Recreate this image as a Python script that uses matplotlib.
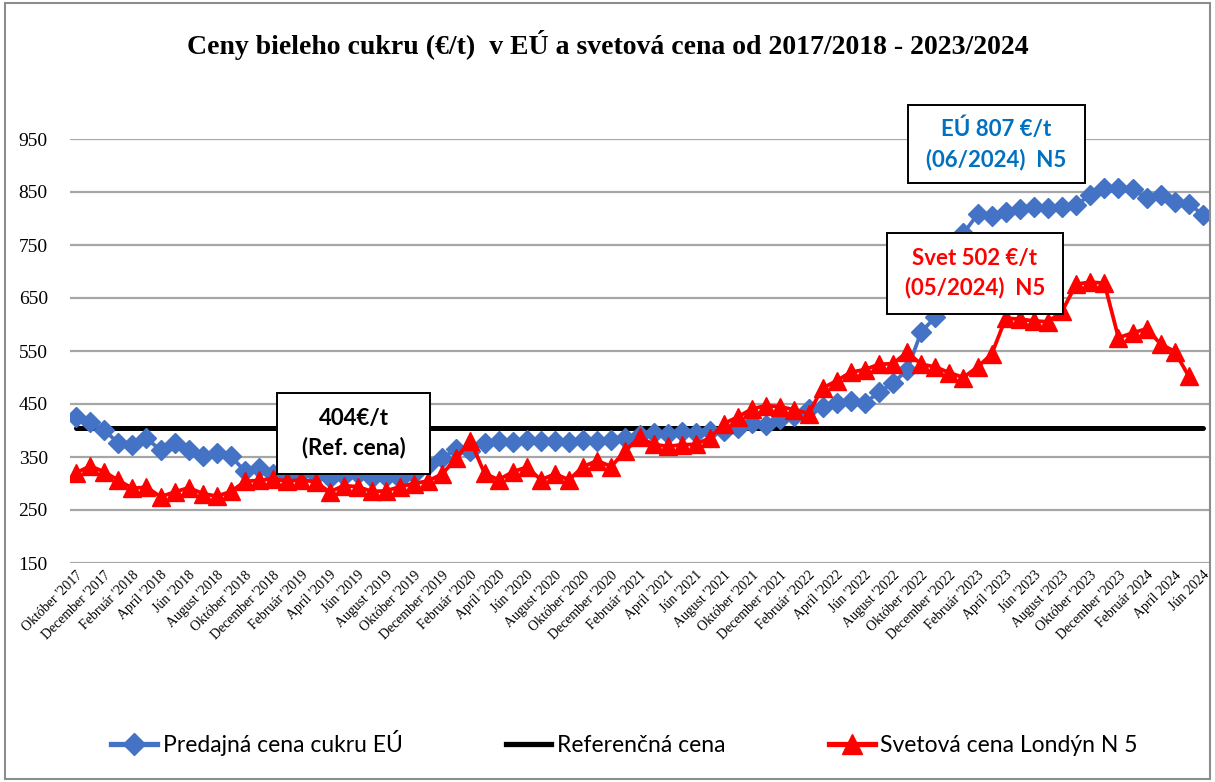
import matplotlib
matplotlib.use("Agg")
import matplotlib.pyplot as plt
from matplotlib.patches import Rectangle
from matplotlib.lines import Line2D

# Monthly data Oktober 2017 - Jun 2024
eu_price = [426, 416, 401, 376, 373, 385, 363, 377, 363, 351, 357, 351,
            323, 330, 318, 315, 320, 316, 310, 314, 318, 310, 313, 308,
            318, 335, 348, 365, 362, 376, 380, 378, 382, 380, 381, 379,
            383, 380, 382, 386, 392, 395, 393, 398, 396, 399, 400, 405,
            415, 410, 422, 428, 440, 445, 452, 456, 452, 472, 490, 514,
            586, 614, 690, 772, 808, 805, 812, 818, 822, 820, 822, 825,
            845, 857, 858, 856, 838, 845, 832, 828, 807]
world_price = [320, 333, 322, 306, 291, 293, 275, 284, 292, 281, 276, 285,
               304, 306, 309, 304, 307, 303, 284, 296, 294, 285, 286, 294,
               300, 305, 318, 348, 381, 319, 307, 322, 331, 307, 318, 307,
               332, 343, 332, 362, 387, 374, 370, 373, 374, 386, 413, 426,
               441, 447, 445, 439, 432, 480, 494, 510, 515, 525, 526, 548,
               525, 520, 509, 500, 520, 544, 612, 610, 607, 605, 625, 676,
               680, 678, 575, 584, 592, 563, 549, 502]
ref_price = 404

month_names = ["Október", "December", "Február", "Apríl", "Jún", "August"]
tick_labels = []
for k in range(41):
    year = 2017 + (9 + 2 * k) // 12
    name = month_names[k % 6]
    if year == 2024:
        tick_labels.append(f"{name} {year}")
    else:
        tick_labels.append(f"{name} '{year}")

y_ticks = [150, 250, 350, 450, 550, 650, 750, 850, 950]

fig = plt.figure(figsize=(12.15, 7.82), dpi=100)
ax = fig.add_axes([70 / 1215, 1 - 563 / 782, 1140 / 1215, 424 / 782])

x_eu = list(range(len(eu_price)))
x_world = list(range(len(world_price)))

ax.plot(x_eu, [ref_price] * len(x_eu), color="black", lw=3.6, zorder=2,
        solid_capstyle="round")
ax.plot(x_eu, eu_price, color="#4472C4", lw=2.7, marker="D", ms=10,
        zorder=3)
ax.plot(x_world, world_price, color="#FF0000", lw=2.7, marker="^", ms=13.5,
        zorder=4)

ax.set_xlim(-0.43, 80.5)
ax.set_ylim(150, 950)
ax.set_yticks(y_ticks)
ax.set_yticklabels([str(v) for v in y_ticks], family="Liberation Serif",
                   fontsize=14)
ax.set_xticks(range(0, 81, 2))
ax.set_xticklabels(tick_labels, rotation=45, ha="right", va="top",
                   rotation_mode="anchor", family="Liberation Serif",
                   fontsize=10)
ax.tick_params(axis="y", length=0, pad=16)
ax.tick_params(axis="x", length=0, pad=4)
ax.grid(axis="y", color="#a6a6a6", lw=1.6)
ax.set_axisbelow(True)
for s in ax.spines.values():
    s.set_visible(False)

# Text boxes (index units on x, price units on y)
def text_box(x0, x1, y0, y1, txt, color):
    ax.add_patch(Rectangle((x0, y0), x1 - x0, y1 - y0, fc="white", ec="black",
                           lw=1.4, zorder=5, clip_on=False))
    ax.text((x0 + x1) / 2, (y0 + y1) / 2, txt, ha="center", va="center",
            fontsize=16, fontweight="bold", family="Lato", color=color,
            linespacing=1.45, zorder=6, clip_on=False)

text_box(14.27, 25.12, 318, 471, "404€/t\n(Ref. cena)", "black")
text_box(59.05, 71.61, 867, 1014, "EÚ 807 €/t\n(06/2024)  N5", "#0070C0")
text_box(57.56, 70.05, 620, 773, "Svet 502 €/t\n(05/2024)  N5", "#FF0000")

fig.text(0.5, 1 - 45 / 782, "Ceny bieleho cukru (€/t)  v EÚ a svetová cena od 2017/2018 - 2023/2024",
         ha="center", va="center", family="Liberation Serif",
         fontweight="bold", fontsize=20)

handles = [
    Line2D([], [], color="#4472C4", lw=3.8, marker="D", ms=11),
    Line2D([], [], color="black", lw=3.8),
    Line2D([], [], color="#FF0000", lw=3.8, marker="^", ms=14),
]
labels = ["Predajná cena cukru EÚ", "Referenčná cena", "Svetová cena Londýn N 5"]
fig.legend(handles, labels, loc="center", bbox_to_anchor=(0.514, 1 - 743 / 782),
           ncol=3, frameon=False, numpoints=1, handlelength=2.0,
           handletextpad=0.25, columnspacing=4.5,
           prop={"family": "Lato", "size": 16.5})

fig.patches.append(Rectangle((0.004, 0.004), 0.992, 0.992,
                             transform=fig.transFigure, fill=False,
                             ec="#8c8c8c", lw=1.5))

fig.savefig("out.png", dpi=100)
